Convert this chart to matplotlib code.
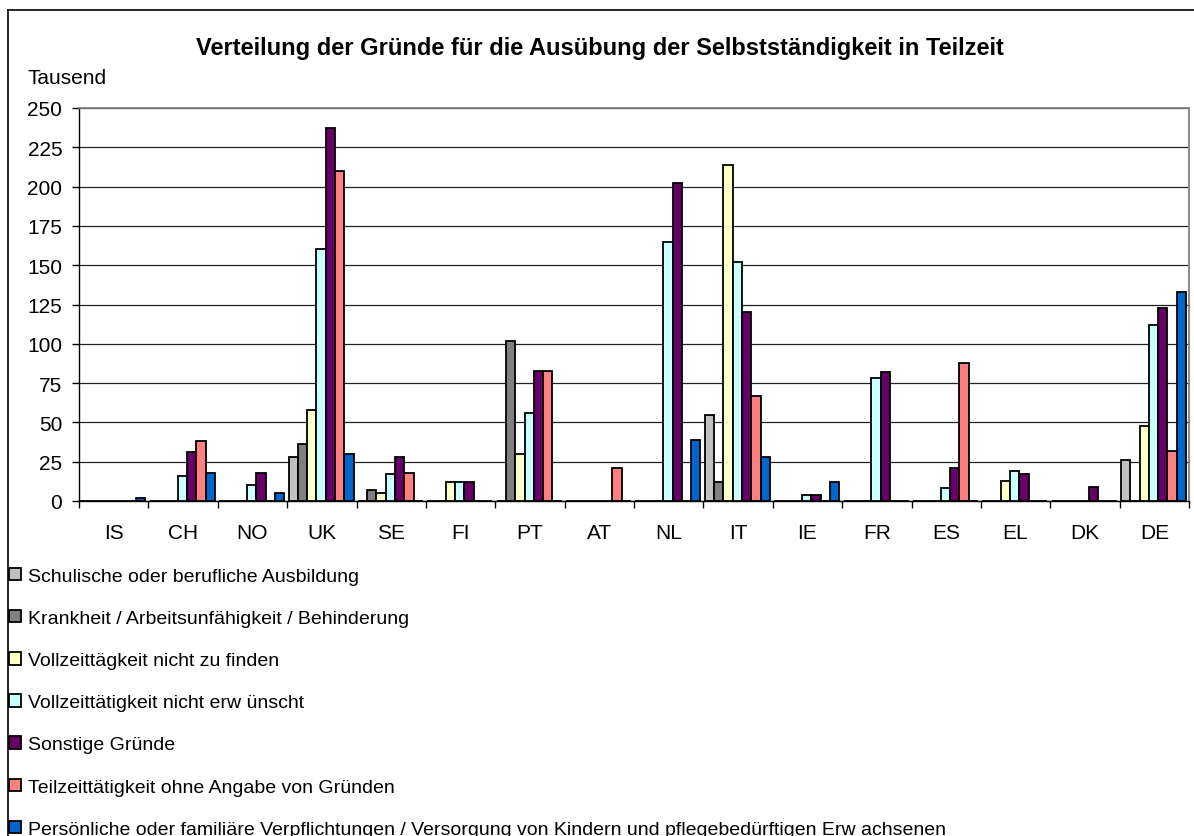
import numpy as np
import matplotlib.pyplot as plt
from matplotlib.lines import Line2D

# ---------------------------------------------------------------------------
# Data (Tausend)
# ---------------------------------------------------------------------------
countries = ["IS", "CH", "NO", "UK", "SE", "FI", "PT", "AT",
             "NL", "IT", "IE", "FR", "ES", "EL", "DK", "DE"]

ausbildung = [0, 0, 0, 28, 0, 0, 0, 0, 0, 55, 0, 0, 0, 0, 0, 26]
krankheit = [0, 0, 0, 36, 7, 0, 102, 0, 0, 12, 0, 0, 0, 0, 0, 0]
vz_nicht_finden = [0, 0, 0, 58, 5, 12, 30, 0, 0, 214, 0, 0, 0, 13, 0, 48]
vz_nicht_erwuenscht = [0, 16, 10, 160, 17, 12, 56, 0, 165, 152, 4, 78, 8, 19, 0, 112]
sonstige = [0, 31, 18, 237, 28, 12, 83, 0, 202, 120, 4, 82, 21, 17, 9, 123]
ohne_angabe = [0, 38, 0, 210, 18, 0, 83, 21, 0, 67, 0, 0, 88, 0, 0, 32]
verpflichtungen = [2, 18, 5, 30, 0, 0, 0, 0, 39, 28, 12, 0, 0, 0, 0, 133]

labels = [
    "Schulische oder berufliche Ausbildung",
    "Krankheit / Arbeitsunfähigkeit / Behinderung",
    "Vollzeittägkeit nicht zu finden",
    "Vollzeittätigkeit nicht erw ünscht",
    "Sonstige Gründe",
    "Teilzeittätigkeit ohne Angabe von Gründen",
    "Persönliche oder familiäre Verpflichtungen / Versorgung von Kindern und pflegebedürftigen Erw achsenen",
]
colors = ["#C0C0C0", "#808080", "#FFFFCC", "#CCFFFF", "#660066", "#FF8080", "#0066CC"]
series = [ausbildung, krankheit, vz_nicht_finden, vz_nicht_erwuenscht,
          sonstige, ohne_angabe, verpflichtungen]

yticks = [0, 25, 50, 75, 100, 125, 150, 175, 200, 225, 250]

# ---------------------------------------------------------------------------
plt.rcParams["font.family"] = ["Liberation Sans", "DejaVu Sans"]

W, H = 1194, 837
fig = plt.figure(figsize=(W / 100, H / 100), dpi=100)
ax = fig.add_axes([79 / W, 1 - 502 / H, 1110 / W, 393 / H])

x = np.arange(len(countries))
bw = 0.134
start = -0.5 + 0.02
handles = []
for i, (vals, col, lab) in enumerate(zip(series, colors, labels)):
    b = ax.bar(x + start + bw * (i + 0.5), vals, width=bw, color=col,
               edgecolor="black", linewidth=1.3, label=lab, zorder=3)
    handles.append(b)

ax.set_xlim(-0.5, len(countries) - 0.5)
ax.set_ylim(0, 250)
ax.set_yticks(yticks)
ax.yaxis.grid(True, color="#222222", linewidth=0.9, zorder=0)
ax.set_axisbelow(True)

# category ticks between groups, labels centred
ax.set_xticks(np.arange(len(countries) + 1) - 0.5)
ax.set_xticklabels([])
ax.set_xticks(x, minor=True)
ax.set_xticklabels(countries, minor=True, fontsize=15)
ax.tick_params(axis="x", which="major", direction="out", length=5, width=1, color="black")
ax.tick_params(axis="x", which="minor", length=0, pad=16)
ax.tick_params(axis="y", direction="out", length=5, width=1, labelsize=15, pad=7)

for s in ["left", "bottom"]:
    ax.spines[s].set_color("black")
    ax.spines[s].set_linewidth(1.0)
for s in ["top", "right"]:
    ax.spines[s].set_color("#808080")
    ax.spines[s].set_linewidth(1.3)

fig.text(600 / W, 1 - 49 / H,
         "Verteilung der Gründe für die Ausübung der Selbstständigkeit in Teilzeit",
         ha="center", va="center", fontsize=17, fontweight="bold")
fig.text(27 / W, 1 - 78 / H, "Tausend", ha="left", va="center", fontsize=15)

fig.legend(handles=handles, labels=labels, loc="upper left",
           bbox_to_anchor=(9 / W, 1 - 569 / H), frameon=False, fontsize=14,
           handlelength=0.6, handleheight=0.6, handletextpad=0.4,
           labelspacing=1.29, borderpad=0, borderaxespad=0)

# outer chart border (left and top edges visible)
fig.add_artist(Line2D([7.5 / W, 7.5 / W], [0, 1 - 11 / H], color="black", linewidth=1.2))
fig.add_artist(Line2D([7.5 / W, 1], [1 - 11 / H, 1 - 11 / H], color="black", linewidth=1.2))

fig.savefig("out.png", dpi=100)
